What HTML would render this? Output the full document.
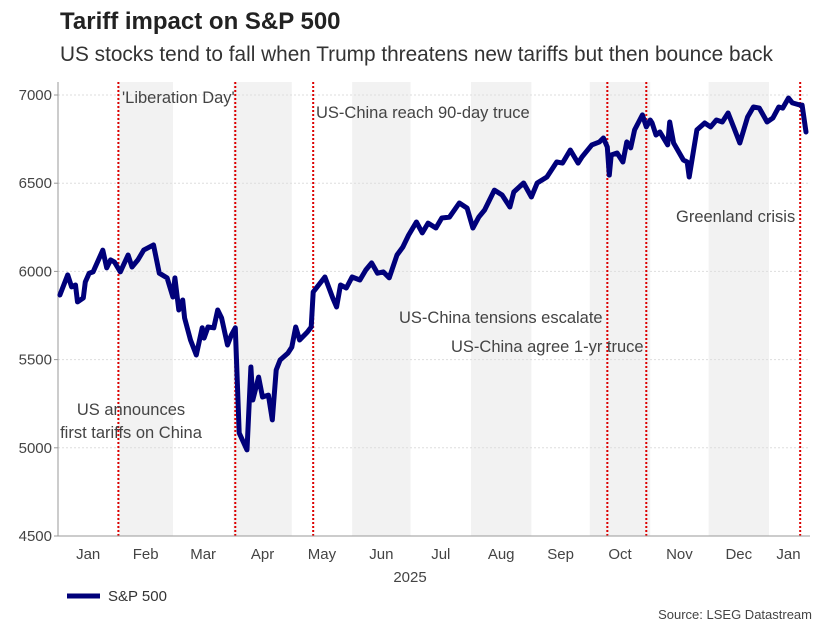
<!DOCTYPE html>
<html><head><meta charset="utf-8"><style>
body{margin:0;background:#fff;font-family:"Liberation Sans",Arial,sans-serif}
svg text{font-family:"Liberation Sans",Arial,sans-serif}
</style></head><body>
<svg width="840" height="629" viewBox="0 0 840 629">
<text x="60" y="29" font-size="24" font-weight="bold" fill="#222">Tariff impact on S&amp;P 500</text>
<text x="60" y="61" font-size="20.8" fill="#333">US stocks tend to fall when Trump threatens new tariffs but then bounce back</text>
<g id="bands"></g>
<g id="grid"></g>
<g id="events"></g>
<line x1="58" y1="82" x2="58" y2="536" stroke="#999"/>
<line x1="58" y1="536" x2="810" y2="536" stroke="#999"/>
<g id="yt"></g>
<g id="xt"></g>
<text x="410" y="582" font-size="15" fill="#444" text-anchor="middle">2025</text>
<g font-size="16.5" fill="#444">
<text x="122" y="103">'Liberation Day'</text>
<text x="316" y="118">US-China reach 90-day truce</text>
<text x="131" y="415" text-anchor="middle">US announces</text>
<text x="131" y="438" text-anchor="middle">first tariffs on China</text>
<text x="399" y="323">US-China tensions escalate</text>
<text x="451" y="352">US-China agree 1-yr truce</text>
<text x="676" y="222">Greenland crisis</text>
</g>
<path id="line" fill="none" stroke="#00007a" stroke-width="5" stroke-linejoin="round" stroke-linecap="round"/>
<line x1="67" y1="596" x2="100" y2="596" stroke="#00007a" stroke-width="5"/>
<text x="108" y="601" font-size="15" fill="#333">S&amp;P 500</text>
<text x="812" y="619" font-size="13" fill="#444" text-anchor="end">Source: LSEG Datastream</text>
</svg>
<script>
const days=[1,5,7,9,10,13,14,16,18,23,25,27,29,32,36,38,41,44,49,52,56,59,60,62,64,65,68,71,74,75,77,80,82,84,87,89,91,93,97,99,100,103,105,108,110,112,114,118,120,122,124,128,130,131,137,141,143,145,148,151,155,158,161,164,167,170,174,177,180,184,187,190,194,197,201,206,210,213,216,219,224,228,232,234,239,243,246,251,254,256,259,263,267,269,274,278,280,282,283,284,287,290,292,294,296,300,302,304,305,307,309,313,314,316,321,323,324,328,332,335,338,341,344,347,350,354,357,360,364,367,370,372,375,377,381,382,384];
const values=[5866,5980,5912,5923,5827,5850,5940,5990,5997,6121,6020,6065,6053,5997,6093,6025,6065,6121,6150,5990,5963,5855,5963,5781,5838,5736,5611,5526,5680,5622,5685,5680,5781,5736,5583,5640,5680,5084,4988,5458,5271,5401,5288,5299,5158,5441,5498,5537,5571,5685,5611,5656,5685,5883,5968,5850,5798,5923,5906,5968,5951,6008,6048,5990,5997,5963,6093,6138,6206,6280,6218,6274,6246,6303,6308,6388,6359,6246,6308,6348,6461,6433,6365,6450,6501,6422,6501,6535,6586,6620,6614,6688,6614,6649,6717,6734,6756,6705,6546,6660,6671,6620,6734,6700,6802,6887,6819,6858,6841,6773,6790,6717,6847,6728,6632,6620,6535,6802,6841,6819,6858,6847,6898,6813,6728,6875,6932,6926,6847,6870,6932,6926,6983,6955,6943,6943,6790];
const eventDays=[31,91,131,282,302,381];
const yTicks=[4500,5000,5500,6000,6500,7000];
const months=["Jan","Feb","Mar","Apr","May","Jun","Jul","Aug","Sep","Oct","Nov","Dec","Jan"];
const monthStarts=[0,31,59,90,120,151,181,212,243,273,304,334,365,396];
const X=d=>58+d*1.948, Y=v=>95+(7000-v)*0.1764;
const NS="http://www.w3.org/2000/svg";
function mk(tag,attrs,parent,txt){const e=document.createElementNS(NS,tag);for(const k in attrs)e.setAttribute(k,attrs[k]);if(txt)e.textContent=txt;document.getElementById(parent).appendChild(e);return e;}
for(let i=1;i<12;i+=2){const e=mk('rect',{x:X(monthStarts[i]),y:82,width:X(monthStarts[i+1])-X(monthStarts[i]),height:454,fill:'#f2f2f2'},'bands');

}
yTicks.forEach(v=>{const g=mk('line',{x1:58,x2:810,y1:Y(v),y2:Y(v),stroke:'#ddd','stroke-dasharray':'2,2'},'grid');


const t=mk('text',{x:52,y:Y(v)+5,'font-size':15,fill:'#444','text-anchor':'end'},'yt',String(v));


const k=mk('line',{x1:54,x2:58,y1:Y(v),y2:Y(v),stroke:'#999'},'yt');

});
months.forEach((m,i)=>{const c=(X(monthStarts[i])+Math.min(X(monthStarts[i+1]),808))/2;
const t=mk('text',{x:c,y:559,'font-size':15,fill:'#444','text-anchor':'middle'},'xt',m);

});
eventDays.forEach(d=>{const e=mk('line',{x1:X(d),x2:X(d),y1:82,y2:536,stroke:'#d00','stroke-width':2,'stroke-dasharray':'2,2'},'events');

});
document.getElementById('line').setAttribute('d',days.map((d,i)=>(i?'L':'M')+X(d).toFixed(1)+','+Y(values[i]).toFixed(1)).join(''));
</script>
</body></html>
